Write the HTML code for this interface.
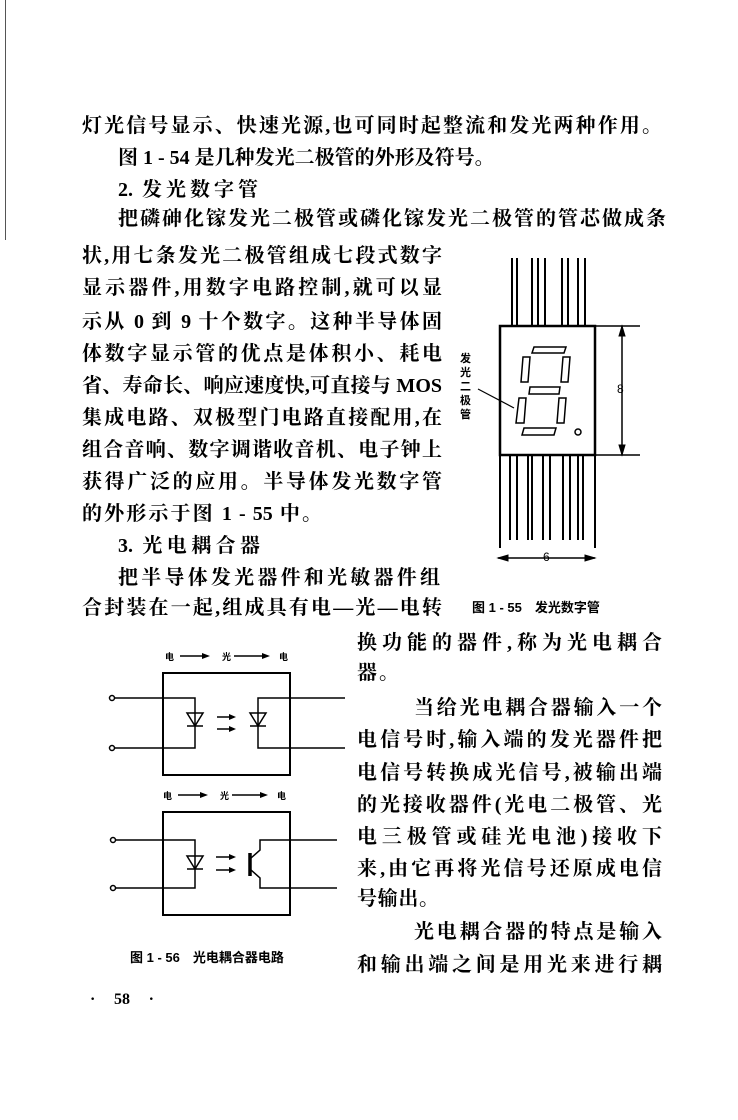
<!DOCTYPE html>
<html><head><meta charset="utf-8">
<style>
html,body{margin:0;padding:0;background:#fff;}
body{width:738px;height:1120px;position:relative;overflow:hidden;font-family:"Liberation Serif","Noto Serif CJK SC",serif;color:#000;}
.l{position:absolute;height:26px;line-height:26px;font-size:20px;font-weight:700;text-align:justify;text-align-last:justify;white-space:nowrap;}
.s{position:absolute;font-size:11px;font-weight:700;font-family:"Liberation Sans","Noto Sans CJK SC",sans-serif;white-space:nowrap;}
svg{position:absolute;left:0;top:0;}
</style></head><body>
<div style="position:absolute;left:5px;top:0;width:1px;height:240px;background:#555"></div>

<div class="l" style="left:82px;top:113px;width:580px">灯光信号显示、快速光源,也可同时起整流和发光两种作用。</div>
<div class="l" style="left:118px;top:145px;width:350px">图 1 - 54 是几种发光二极管的外形及符号。</div>
<div class="l" style="left:118px;top:177px;width:140px">2. 发光数字管</div>
<div class="l" style="left:118px;top:206px;width:548px">把磷砷化镓发光二极管或磷化镓发光二极管的管芯做成条</div>
<div class="l" style="left:82px;top:243px;width:360px">状,用七条发光二极管组成七段式数字</div>
<div class="l" style="left:82px;top:275px;width:360px">显示器件,用数字电路控制,就可以显</div>
<div class="l" style="left:82px;top:309px;width:360px">示从 0 到 9 十个数字。这种半导体固</div>
<div class="l" style="left:82px;top:341px;width:360px">体数字显示管的优点是体积小、耗电</div>
<div class="l" style="left:82px;top:373px;width:360px">省、寿命长、响应速度快,可直接与 MOS</div>
<div class="l" style="left:82px;top:405px;width:360px">集成电路、双极型门电路直接配用,在</div>
<div class="l" style="left:82px;top:437px;width:360px">组合音响、数字调谐收音机、电子钟上</div>
<div class="l" style="left:82px;top:469px;width:360px">获得广泛的应用。半导体发光数字管</div>
<div class="l" style="left:82px;top:501px;width:240px">的外形示于图 1 - 55 中。</div>
<div class="l" style="left:118px;top:533px;width:142px">3. 光电耦合器</div>
<div class="l" style="left:118px;top:565px;width:322px">把半导体发光器件和光敏器件组</div>
<div class="l" style="left:82px;top:595px;width:360px">合封装在一起,组成具有电—光—电转</div>

<div class="l" style="left:357px;top:630px;width:305px">换功能的器件,称为光电耦合</div>
<div class="l" style="left:357px;top:660px;width:42px">器。</div>
<div class="l" style="left:414px;top:695px;width:248px">当给光电耦合器输入一个</div>
<div class="l" style="left:357px;top:727px;width:305px">电信号时,输入端的发光器件把</div>
<div class="l" style="left:357px;top:760px;width:305px">电信号转换成光信号,被输出端</div>
<div class="l" style="left:357px;top:792px;width:305px">的光接收器件(光电二极管、光</div>
<div class="l" style="left:357px;top:824px;width:305px">电三极管或硅光电池)接收下</div>
<div class="l" style="left:357px;top:856px;width:305px">来,由它再将光信号还原成电信</div>
<div class="l" style="left:357px;top:886px;width:82px">号输出。</div>
<div class="l" style="left:414px;top:919px;width:248px">光电耦合器的特点是输入</div>
<div class="l" style="left:357px;top:952px;width:305px">和输出端之间是用光来进行耦</div>

<div class="l" style="left:90px;top:987px;width:64px;font-size:16px">· 58 ·</div>

<div class="s" style="left:472px;top:597px;font-size:13px">图 1 - 55　发光数字管</div>
<div class="s" style="left:130px;top:947px;font-size:13px">图 1 - 56　光电耦合器电路</div>
<div class="s" style="left:460px;top:352px;width:12px;line-height:14px;white-space:normal">发光二极管</div>
<div class="s" style="left:617px;top:382px;font-size:12px;font-weight:400;font-family:'Liberation Sans',sans-serif">8</div>
<div class="s" style="left:543px;top:550px;font-size:12px;font-weight:400;font-family:'Liberation Sans',sans-serif">6</div>
<div class="s" style="left:165px;top:650px;font-size:9px">电</div>
<div class="s" style="left:222px;top:650px;font-size:9px">光</div>
<div class="s" style="left:279px;top:650px;font-size:9px">电</div>
<div class="s" style="left:163px;top:789px;font-size:9px">电</div>
<div class="s" style="left:220px;top:789px;font-size:9px">光</div>
<div class="s" style="left:277px;top:789px;font-size:9px">电</div>

<svg width="738" height="1120" viewBox="0 0 738 1120">
<g stroke="#000" fill="none" stroke-width="2">
<path d="M512 258V326M517 258V326M532 258V326M538 258V326M545 258V326M562 258V326M568 258V326M578 258V326M585 258V326"/>
<path d="M500 455V548M510 455V540M517 455V540M528 455V540M532 455V540M543 455V540M550 455V540M563 455V540M570 455V540M578 455V540M583 455V540M595 455V548"/>
<rect x="500" y="326" width="95" height="129" stroke-width="2.5"/>
<g stroke-width="1.5">
<polygon points="534,347 566,347 564,353 532,353"/>
<polygon points="523,357 530,357 528,382 521,382"/>
<polygon points="563,357 570,357 568,382 561,382"/>
<polygon points="530,387 560,387 559,394 529,394"/>
<polygon points="519,398 526,398 524,423 516,423"/>
<polygon points="559,398 566,398 564,423 557,423"/>
<polygon points="524,428 556,428 554,435 522,435"/>
<circle cx="578" cy="432" r="3"/>
</g>
<path d="M478 389L514 408" stroke-width="1.2"/>
<path d="M595 326H640M595 455H640M622 326V455M498 558H595" stroke-width="1.5"/>
</g>
<g stroke="#000" fill="#000">
<polygon points="622,326 619,336 625,336"/><polygon points="622,455 619,445 625,445"/>
<polygon points="498,558 508,555 508,561"/><polygon points="595,558 585,555 585,561"/>
</g>

<g stroke="#000" fill="none" stroke-width="1.5">
<path d="M180 656H204M234 656H262M178 795H202M232 795H260"/>
<rect x="163" y="673" width="127" height="102" stroke-width="2"/>
<path d="M115 698H195V748H115M345 698H258V748H345"/>
<path d="M187 713H203L195 726ZM187 726H203M250 713H266L258 726ZM250 726H266" stroke-width="1.5"/>
<path d="M217 717H234M217 729H234"/>
<circle cx="112" cy="698" r="2.5" fill="#fff"/><circle cx="112" cy="748" r="2.5" fill="#fff"/>
<rect x="163" y="812" width="127" height="103" stroke-width="2"/>
<path d="M115 840H195V888H115M337 840H260V850L251 858M337 888H260V878L251 870"/>
<path d="M250 853V876" stroke-width="3.5"/>
<path d="M187 856H203L195 869ZM187 869H203"/>
<path d="M216 857H234M216 870H234"/>
<circle cx="113" cy="840" r="2.5" fill="#fff"/><circle cx="113" cy="888" r="2.5" fill="#fff"/>
</g>
<g fill="#000">
<polygon points="210,656 202,653 202,659"/><polygon points="270,656 262,653 262,659"/>
<polygon points="208,795 200,792 200,798"/><polygon points="268,795 260,792 260,798"/>
<polygon points="236,717 229,714 229,720"/><polygon points="236,729 229,726 229,732"/>
<polygon points="236,857 229,854 229,860"/><polygon points="236,870 229,867 229,873"/>
</g>
</svg>
</body></html>
